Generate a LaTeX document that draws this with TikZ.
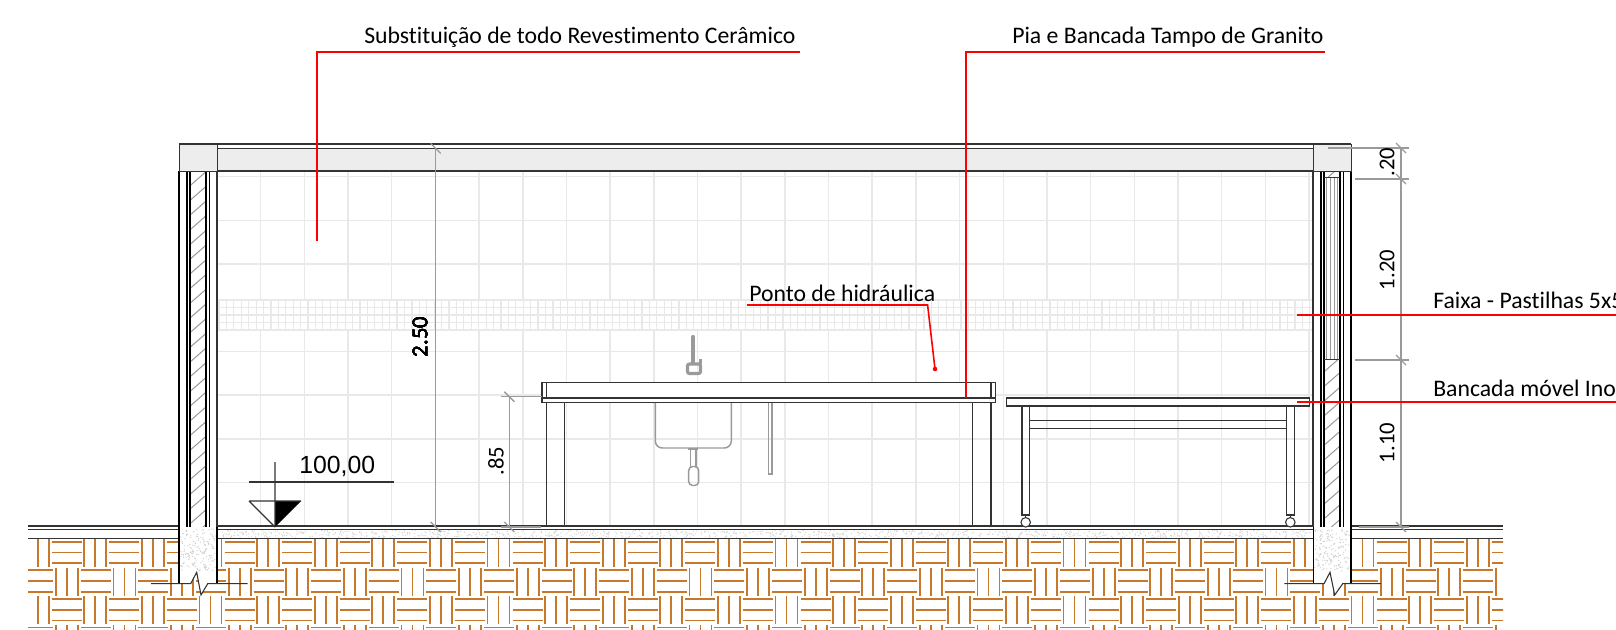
\documentclass[tikz,border=0pt]{standalone}
\usepackage{fontspec}
\setmainfont[Ligatures=NoCommon]{Carlito}
\newfontfamily\levelfont{Liberation Sans}
\usetikzlibrary{positioning,calc}
\definecolor{earth}{HTML}{C8782A}
\definecolor{tile}{HTML}{E9E9E9}
\definecolor{concrete}{HTML}{CFCFCF}
\definecolor{inkline}{HTML}{333333}
\definecolor{dimgray}{HTML}{9A9A9A}
\tikzset{
	wall/.style={draw=black, line width=1.1pt},
	part/.style={draw=inkline, line width=0.95pt},
	fixture/.style={draw=dimgray, line width=1.1pt},
	tileline/.style={draw=tile, line width=1.1pt},
	dimline/.style={draw=dimgray, line width=1pt},
	leader/.style={draw=red, line width=1.2pt},
	hatchline/.style={draw=dimgray, line width=0.75pt},
	soil/.style={draw=earth, line width=1.35pt},
	label/.style={font=\fontsize{17.8}{20}\selectfont, anchor=base west, inner sep=0},
	dimtext/.style={font=\fontsize{17}{20}\selectfont, rotate=90, inner sep=0}
}
\newcommand{\dimtick}[1]{\draw[dimline] ($(#1)+(-5,-5)$) -- ($(#1)+(5,5)$);}
\begin{document}
\begin{tikzpicture}[x=0.75pt, y=-0.75pt]
	\clip (0,0) rectangle (1616,630);
	\fill[white] (0,0) rectangle (1616,630);

	% tiles and mosaic band
	\foreach \k in {1,...,25}
		\draw[tileline] ({217+43.68*\k},171) -- ({217+43.68*\k},527);
	\foreach \k in {0,...,7}
		\draw[tileline] (217,{176.7+43.7*\k}) -- (1313,{176.7+43.7*\k});
	\fill[white] (217,299) rectangle (1313,331);
	\foreach \k in {0,...,147}
		\draw[tileline, line width=0.9pt] ({219+7.42*\k},300) -- ({219+7.42*\k},330);
	\foreach \k in {0,...,4}
		\draw[tileline, line width=0.9pt] (217,{300+7.5*\k}) -- (1313,{300+7.5*\k});

	% soil
	\begin{scope}
		\clip (28,539) rectangle (1503,630);
		\foreach \r in {0,1,2,3} {
			\pgfmathsetmacro{\rx}{mod(\r,2)*(-28.5)}
			\pgfmathsetmacro{\ry}{539+28.6*\r}
			\foreach \c in {-1,...,26} {
				\pgfmathsetmacro{\ux}{26.7+\rx+57.6*\c}
				\draw[soil] (\ux,\ry) -- (\ux,\ry+28);
				\draw[soil] (\ux+11,\ry) -- (\ux+11,\ry+28);
				\draw[soil] (\ux+22,\ry) -- (\ux+22,\ry+28);
				\draw[soil] (\ux+25,\ry+2.7) -- (\ux+55,\ry+2.7);
				\draw[soil] (\ux+25,\ry+13.5) -- (\ux+55,\ry+13.5);
				\draw[soil] (\ux+25,\ry+24.2) -- (\ux+55,\ry+24.2);
			}
		}
	\end{scope}

	% floor
	\pgfmathsetseed{11}
	\foreach \i in {1,...,1100} {
		\pgfmathsetmacro{\sx}{217+rnd*1096}
		\pgfmathsetmacro{\sy}{530.5+rnd*7.5}
		\fill[concrete] (\sx,\sy) circle (0.45pt);
	}
	\draw[part, line width=1.1pt] (28,526) -- (1503,526);
	\draw[part] (28,529.5) -- (1503,529.5);
	\draw[part, line width=1.1pt] (28,538.7) -- (1503,538.7);

	% walls and beam
	\fill[white] (179,171) rectangle (217,527) (1313,171) rectangle (1351,527);
	\begin{scope}
		\clip (190,171) rectangle (206,527) (1324,360) rectangle (1340,527) (1324,171) rectangle (1340,178);
		\foreach \k in {0,...,25}
			\draw[hatchline] (190,{171+14.7*\k}) -- (206,{157+14.7*\k});
		\foreach \k in {0,...,26}
			\draw[hatchline] (1324,{166+14.7*\k}) -- (1340,{152+14.7*\k});
	\end{scope}
	\foreach \x in {1326,1330,1334,1337}
		\draw[hatchline, line width=0.6pt] (\x,178) -- (\x,360);
	\foreach \x in {179,187,190,206,209.5,1321,1324,1340,1343.7,1351}
		\draw[wall] (\x,171) -- (\x,527);
	\draw[part] (217,171) -- (217,527) (1313,171) -- (1313,527);
	\draw[hatchline, draw=inkline] (1324,178) -- (1340,178) (1324,360) -- (1340,360);
	\fill[tile!80!white] (217,149) rectangle (1313,171);
	\draw[part] (179,144) -- (1351,144);
	\draw[part, line width=1.1pt] (217,148.5) -- (1313,148.5);
	\draw[part] (217,171) -- (1313,171);
	\node[draw=inkline, line width=1.1pt, fill=tile!80!white, minimum width=38*0.75pt, minimum height=27*0.75pt, inner sep=0, anchor=north west] (pierleft) at (179,144) {};
	\node[draw=inkline, line width=1.1pt, fill=tile!80!white, minimum width=38*0.75pt, minimum height=27*0.75pt, inner sep=0, anchor=north west] (pierright) at (1313,144) {};

	% footings
	\foreach \fx/\a/\b/\c/\d/\e/\g in {179/217/190.7/196.7/201/207.7/151, 1313.3/1350.7/1324/1330/1334.7/1342.7/1284.3} {
		\fill[white] (\fx,527) -- (\a,527) -- (\a,583.7) -- (\e,583.7) -- (\d,595) -- (\c,572.3) -- (\b,583.7) -- (\fx,583.7) -- cycle;
		\pgfmathsetmacro{\wd}{\a-\fx}
		\foreach \i in {1,...,170} {
			\pgfmathsetmacro{\sx}{\fx+1.5+rnd*(\wd-3)}
			\pgfmathsetmacro{\sy}{529+rnd*42}
			\fill[concrete] (\sx,\sy) circle (0.5pt);
		}
		\draw[wall, line width=1.2pt] (\fx,527) -- (\fx,583.7) (\a,527) -- (\a,583.7);
		\draw[draw=inkline, line width=0.8pt] (\g,583.7) -- (\b,583.7) -- (\c,572.3) -- (\d,595) -- (\e,583.7) -- (\g+96.5,583.7);
	}

	% sink bench
	\draw[part, fill=white] (542,382.7) rectangle (995.7,402.7);
	\draw[part] (542,398) -- (995.7,398) (546.7,382.7) -- (546.7,398) (991,382.7) -- (991,398);
	\draw[part] (546.7,402.7) -- (546.7,526) (564.7,402.7) -- (564.7,526);
	\draw[part] (972.7,402.7) -- (972.7,526) (991,402.7) -- (991,526);
	\draw[fixture, rounded corners=7*0.75pt] (655.3,403) -- (655.3,448) -- (731.3,448) -- (731.3,403);
	\draw[fixture] (688.3,449) -- (698,449) (690.5,449) -- (690.5,466.5) (696,449) -- (696,466.5);
	\draw[fixture, rounded corners=4*0.75pt] (688.7,466.5) -- (698.7,466.5) -- (698.7,485.5) -- (688.7,485.5) -- cycle;
	\draw[fixture, line width=0.9pt] (768.7,403) -- (768.7,474) -- (772,474) -- (772,403);
	\draw[draw=dimgray, line width=3.2pt, line cap=round] (693,337) -- (693,362);
	\draw[draw=dimgray, line width=2.4pt, rounded corners=1.5pt] (687.5,364) rectangle (700.5,373.5);
	\draw[draw=dimgray, line width=2pt] (700.5,364) -- (700.5,359);

	% mobile bench
	\draw[part, fill=white] (1006.7,398) rectangle (1309.3,406);
	\draw[part] (1022,406) rectangle (1029.3,515);
	\draw[part] (1286.3,406) rectangle (1294.3,515);
	\draw[part] (1029.3,420.7) -- (1286.3,420.7) (1029.3,428.7) -- (1286.3,428.7);
	\foreach \x/\n in {1025.7/casterleft, 1290.3/casterright} {
		\node[draw=inkline, line width=0.8pt, circle, fill=white, minimum size=9.5*0.75pt, inner sep=0] (\n) at (\x,522.3) {};
		\draw[part] (\n.north) -- (\x,515);
	}

	% level mark
	\coordinate (levelapex) at (275,527);
	\coordinate (leveltop) at (275,462);
	\fill[black] (275,501) -- (301,501) -- (levelapex) -- cycle;
	\draw[draw=inkline, line width=0.8pt] (249,501) -- (301,501) (249,501) -- (levelapex) (leveltop) -- (levelapex);
	\draw[draw=inkline, line width=0.8pt] (249,482) -- (394,482);
	\node[anchor=base west, inner sep=0, font=\levelfont\fontsize{18.6}{20}\selectfont] (leveltext) at (299,473.5) {100,00};

	% dimensions
	\coordinate (dima) at (435.7,148.5);
	\coordinate (dimb) at (435.7,527);
	\coordinate (dimc) at (509.3,396.7);
	\coordinate (dimd) at (509.3,527);
	\coordinate (dime) at (1401,148);
	\coordinate (dimf) at (1401,179);
	\coordinate (dimg) at (1401,360);
	\coordinate (dimh) at (1401,527);
	\draw[dimline] (dima) -- (dimb);
	\draw[dimline] (dimc) -- (dimd);
	\draw[dimline] (dime) -- (dimh);
	\draw[dimline] (501,396.7) -- (542,396.7) (501,527) -- (541,527);
	\draw[dimline] (1328,148) -- (1409,148) (1355,179) -- (1409,179) (1355,360) -- (1409,360) (1359,527) -- (1409,527);
	\foreach \p in {dima,dimb,dimc,dimd,dime,dimf,dimg,dimh}
		\dimtick{\p}
	\node[dimtext] (dimtwofifty) at (420,337) {2.50};
	\node[dimtext] (dimeightyfive) at (496,461) {.85};
	\node[dimtext] (dimtwenty) at (1387,162) {.20};
	\node[dimtext] (dimonetwenty) at (1387,270) {1.20};
	\node[dimtext] (dimoneten) at (1387,443) {1.10};

	% leaders
	\node[label] (ceramic) at (364,44) {Substituição de todo Revestimento Cerâmico};
	\node[label] (granite) at (1012,44) {Pia e Bancada Tampo de Granito};
	\node[label] (water) at (749,302) {Ponto de hidráulica};
	\node[label] (mosaic) at (1433,309) {Faixa - Pastilhas 5x5};
	\node[label] (trolley) at (1433,397) {Bancada móvel Ino};
	\coordinate (ceramicend) at (317,241);
	\coordinate (graniteend) at (966,398);
	\coordinate (waterend) at (935,369);
	\draw[leader] (ceramicend) |- (800,52);
	\draw[leader] (graniteend) |- (1325,52);
	\draw[leader] (747,305) -- (927.6,305) -- (waterend);
	\fill[red] (waterend) circle (1.7pt);
	\draw[leader] (1297,315) -- (1616,315);
	\draw[leader] (1297,402) -- (1616,402);
\end{tikzpicture}
\end{document}
